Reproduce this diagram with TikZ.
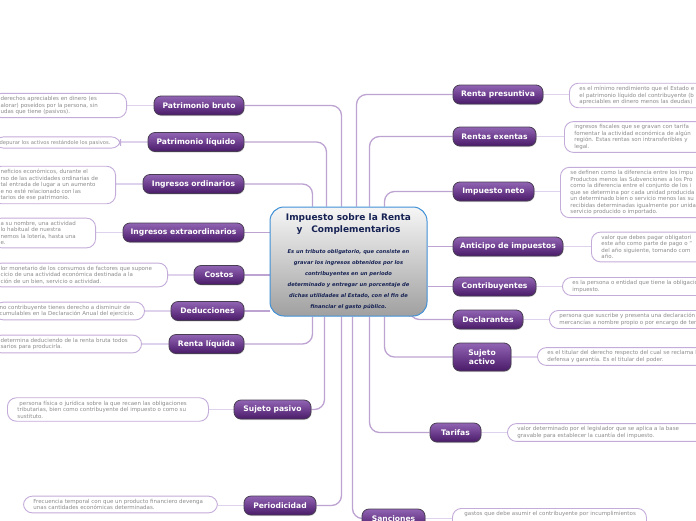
\documentclass[tikz,border=0pt]{standalone}
\usepackage{fontspec}
\setmainfont{DejaVu Sans}
\usetikzlibrary{shadows}
\definecolor{conn}{RGB}{189,163,210}
\definecolor{leaf}{RGB}{222,210,236}
\definecolor{boxline}{RGB}{196,172,218}
\definecolor{notetxt}{RGB}{140,140,140}
\definecolor{ptop}{RGB}{146,100,180}
\definecolor{pbot}{RGB}{72,26,104}
\definecolor{pedge}{RGB}{72,62,82}
\definecolor{navy}{RGB}{22,34,84}
\definecolor{cblue}{RGB}{64,144,214}
\definecolor{ctop}{RGB}{246,246,246}
\definecolor{cbot}{RGB}{160,160,160}
\pgfdeclarelayer{background}
\pgfsetlayers{background,main}
\tikzset{
  pill/.style={rounded corners=7pt, draw=pedge, line width=0.8pt, top color=ptop, bottom color=pbot,
    text=white, font=\fontsize{7.6}{9}\selectfont\bfseries, minimum height=19pt, inner xsep=3pt,
    inner ysep=0pt, align=center, drop shadow={shadow xshift=0.6pt, shadow yshift=-1pt, opacity=0.3}},
  note/.style={rounded corners=9pt, draw=boxline, line width=0.9pt, fill=white, text=notetxt,
    font=\fontsize{5.5}{6.5}\selectfont, align=flush left, inner ysep=3pt, inner xsep=10pt},
  hub/.style={rounded corners=14pt, draw=cblue, line width=1pt, top color=ctop, bottom color=cbot,
    text=navy, minimum width=157pt, minimum height=109pt, text width=152pt, inner sep=0pt, align=center},
  trunk/.style={draw=conn, line width=1.3pt, rounded corners=10pt},
  twig/.style={draw=leaf, line width=1.3pt},
}
\begin{document}
\begin{tikzpicture}[x=1pt,y=-1pt]
\useasboundingbox (0,0) rectangle (696,520);
\clip (0,0) rectangle (696,520);

% central node
\node[hub] (c) at (348.5,261.5) {\centering\fontsize{9}{12}\selectfont\bfseries Impuesto sobre la Renta\\y\hspace{9pt}Complementarios\par\vspace{9.5pt}
\centering\spaceskip=0pt\xspaceskip=0pt\fontsize{5.2}{11}\selectfont\bfseries\itshape Es un tributo obligatorio, que consiste en\\gravar los ingresos obtenidos por los\\contribuyentes en un periodo\\determinado y entregar un porcentaje de\\dichas utilidades al Estado, con el fin de\\financiar el gasto público.\par};

% left branches
\node[pill, minimum width=90pt] (pb) at (199,105.5) {Patrimonio bruto};
\node[pill, minimum width=96pt] (pl) at (196,142) {Patrimonio líquido};
\node[pill, minimum width=101pt] (io) at (193.5,184) {Ingresos ordinarios};
\node[pill, minimum width=121pt] (ie) at (183.5,232.5) {Ingresos extraordinarios};
\node[pill, minimum width=50pt] (co) at (219,275) {Costos};
\node[pill, minimum width=73pt] (de) at (207.5,311) {Deducciones};
\node[pill, minimum width=75pt] (rl) at (206.5,344) {Renta líquida};
\node[pill, minimum width=77pt] (sp) at (272.5,409.5) {Sujeto pasivo};
\node[pill, minimum width=72pt] (pe) at (280,505.5) {Periodicidad};

% right branches
\node[pill, minimum width=90pt] (rp) at (498,94.5) {Renta presuntiva};
\node[pill, minimum width=83pt] (re) at (494.5,136.5) {Rentas exentas};
\node[pill, minimum width=81pt] (in) at (493.5,191.5) {Impuesto neto};
\node[pill, minimum width=110pt] (an) at (508,246.5) {Anticipo de impuestos};
\node[pill, minimum width=83pt] (cb) at (494.5,286.5) {Contribuyentes};
\node[pill, minimum width=70pt] (dc) at (488,319.5) {Declarantes};
\node[pill, minimum width=58pt, minimum height=28pt] (sac) at (482,357) {Sujeto\\activo};
\node[pill, minimum width=51pt] (ta) at (455.5,432.5) {Tarifas};
\node[pill, minimum width=63pt] (sa) at (393.5,518.5) {Sanciones};

% left notes
\node[note, anchor=east, text width=118pt, inner xsep=8pt] (pbt) at (127,105.5) {derechos apreciables en dinero (es\\alorar) poseídos por la persona, sin\\udas que tiene (pasivos).};
\node[note, anchor=east, text width=116pt, inner xsep=5pt, font=\fontsize{5.2}{6.5}\selectfont] (plt) at (121,142.5) {depurar los activos restándole los pasivos.};
\node[note, anchor=east, text width=107pt, inner xsep=8pt] (iot) at (116,185) {neficios económicos, durante el\\rso de las actividades ordinarias de\\tal entrada de lugar a un aumento\\e no esté relacionado con las\\tarios de ese patrimonio.};
\node[note, anchor=east, text width=87pt, inner xsep=8pt] (iet) at (96,233) {a su nombre, una actividad\\lo habitual de nuestra\\nemos la lotería, hasta una\\e.};
\node[note, anchor=east, text width=159pt, inner xsep=8pt] (cot) at (168,275) {lor monetario de los consumos de factores que supone\\cicio de una actividad económica destinada a la\\ción de un bien, servicio o actividad.};
\node[note, anchor=east, text width=140pt, inner xsep=5pt] (det) at (145,311) {no contribuyente tienes derecho a disminuir de\\cumulables en la Declaración Anual del ejercicio.};
\node[note, anchor=east, text width=133pt, inner xsep=8pt] (rlt) at (142,344) {determina deduciendo de la renta bruta todos\\sarios para producirla.};
\node[note, anchor=west, text width=181pt] (spt) at (7,409.5) {\hspace{2pt}persona física o jurídica sobre la que recaen las obligaciones\\tributarias, bien como contribuyente del impuesto o como su\\sustituto.};
\node[note, anchor=west, text width=174pt] (pet) at (23,504.5) {Frecuencia temporal con que un producto financiero devenga\\unas cantidades económicas determinadas.};

% right notes
\node[note, anchor=west, text width=200pt] (rpt) at (569,95.5) {es el mínimo rendimiento que el Estado e\\el patrimonio líquido del contribuyente (b\\apreciables en dinero menos las deudas)};
\node[note, anchor=west, text width=200pt] (ret) at (564,137) {ingresos fiscales que se gravan con tarifa\\fomentar la actividad económica de algún\\región. Estas rentas son intransferibles y\\legal.};
\node[note, anchor=west, text width=200pt] (int) at (560,192.5) {se definen como la diferencia entre los impu\\Productos menos las Subvenciones a los Pro\\como la diferencia entre el conjunto de los i\\que se determina por cada unidad producida\\un determinado bien o servicio menos las su\\recibidas determinadas igualmente por unida\\servicio producido o importado.};
\node[note, anchor=west, text width=200pt] (ant) at (591,247) {valor que debes pagar obligatori\\este año como parte de pago o “\\del año siguiente, tomando com\\año.};
\node[note, anchor=west, text width=200pt] (cbt) at (562,286.5) {es la persona o entidad que tiene la obligació\\impuesto.};
\node[note, anchor=west, text width=200pt] (dct) at (549,319.5) {persona que suscribe y presenta una declaración\\mercancías a nombre propio o por encargo de ter};
\node[note, anchor=west, text width=200pt] (sact) at (537,356.5) {es el titular del derecho respecto del cual se reclama l\\defensa y garantía. Es el titular del poder.};
\node[note, anchor=west, text width=200pt] (tat) at (507,432.5) {valor determinado por el legislador que se aplica a la base\\gravable para establecer la cuantía del impuesto.};
\node[note, anchor=north west, text width=178pt, inner xsep=8pt, text depth=16pt] (sat) at (452,508) {\hspace{4pt}gastos que debe asumir el contribuyente por incumplimientos};

\begin{pgfonlayer}{background}
\fill[white] (0,0) rectangle (696,520);
% trunks from the central node
\draw[trunk] (pb.east) -| ([xshift=72pt]c.north west);
\draw[trunk] (pl.east) -| ([xshift=57pt]c.north west);
\draw[trunk] (io.east) -| ([xshift=43pt]c.north west);
\draw[trunk] (ie.east) -- (ie.east -| c.west);
\draw[trunk] (co.east) -- (co.east -| c.west);
\draw[trunk] (de.east) -- (de.east -| c.west);
\draw[trunk] (rl.east) -| ([xshift=43pt]c.south west);
\draw[trunk] (sp.east) -| ([xshift=55pt]c.south west);
\draw[trunk] (pe.east) -| ([xshift=72pt]c.south west);
\draw[trunk] (sa.west) -| ([xshift=83pt]c.south west);
\draw[trunk] (ta.west) -| ([xshift=100pt]c.south west);
\draw[trunk] (sac.west) -| ([xshift=115pt]c.south west);
\draw[trunk] (dc.west) -| ([xshift=140pt]c.south west);
\draw[trunk] (cb.west) -- (cb.west -| c.east);
\draw[trunk] (an.west) -- (an.west -| c.east);
\draw[trunk] (in.west) -| ([xshift=115pt]c.north west);
\draw[trunk] (re.west) -| ([xshift=100pt]c.north west);
\draw[trunk] (rp.west) -| ([xshift=87pt]c.north west);
% twigs to the notes
\draw[twig] (pb.west) -- (pb.west -| pbt.east);
\draw[twig] (pl.west) -- (pl.west -| plt.east);
\draw[twig] (io.west) -- (io.west -| iot.east);
\draw[twig] (ie.west) -- (ie.west -| iet.east);
\draw[twig] (co.west) -- (co.west -| cot.east);
\draw[twig] (de.west) -- (de.west -| det.east);
\draw[twig] (rl.west) -- (rl.west -| rlt.east);
\draw[twig] (sp.west) -- (sp.west -| spt.east);
\draw[twig] (pe.west) -- (pe.west -| pet.east);
\draw[twig] (rp.east) -- (rp.east -| rpt.west);
\draw[twig] (re.east) -- (re.east -| ret.west);
\draw[twig] (in.east) -- (in.east -| int.west);
\draw[twig] (an.east) -- (an.east -| ant.west);
\draw[twig] (cb.east) -- (cb.east -| cbt.west);
\draw[twig] (dc.east) -- (dc.east -| dct.west);
\draw[twig] (sac.east) -- (sac.east -| sact.west);
\draw[twig] (ta.east) -- (ta.east -| tat.west);
\draw[twig] (sa.east) -- (sa.east -| sat.west);
\end{pgfonlayer}
\end{tikzpicture}
\end{document}
